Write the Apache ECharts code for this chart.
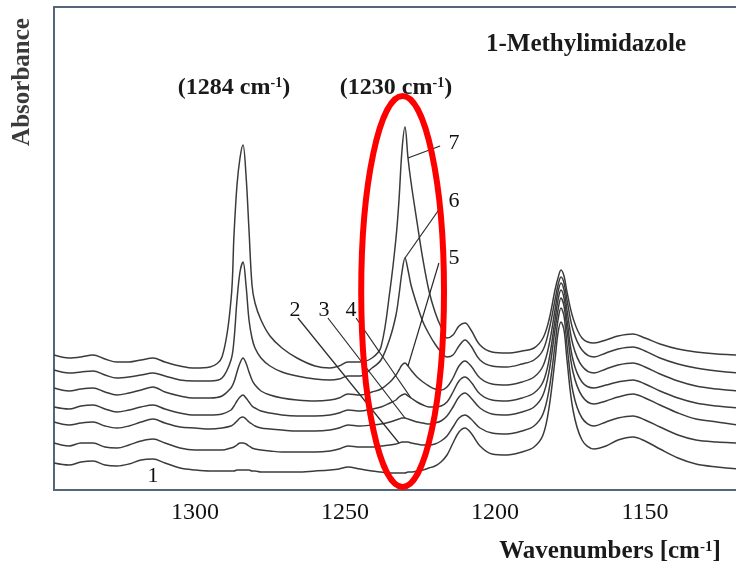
<!DOCTYPE html>
<html>
<head>
<meta charset="utf-8">
<script src="https://cdn.jsdelivr.net/npm/echarts@6/dist/echarts.min.js"></script>
<style>
  html, body { margin: 0; padding: 0; background: #ffffff; }
  #chart { width: 736px; height: 571px; }
</style>
</head>
<body>
<div id="chart"></div>
<script>
// Wavenumber sampling points (cm-1), high to low
const wavenumbers = [1347, 1342, 1338, 1334, 1330, 1326, 1322, 1318, 1314, 1310,
  1305, 1300, 1295, 1291, 1288, 1287, 1286, 1285, 1284, 1283,
  1282, 1281, 1280, 1278, 1275, 1271, 1266, 1260, 1255, 1252,
  1249, 1245, 1241, 1238, 1235, 1233, 1232, 1231, 1230, 1229,
  1228, 1226, 1224, 1222, 1220, 1218, 1216, 1214, 1212, 1210,
  1208, 1205, 1201, 1196, 1191, 1187, 1184, 1182, 1180, 1179,
  1178, 1177, 1176, 1174, 1171, 1167, 1163, 1159, 1154, 1150,
  1145, 1139, 1133, 1126, 1119, 1112];

// Absorbance of each spectrum (stacked, arbitrary offset units)
const spectrum1 = [0.27,0.25,0.28,0.29,0.25,0.24,0.26,0.30,0.31,0.27,
  0.22,0.20,0.19,0.19,0.19,0.19,0.20,0.20,0.20,0.20,
  0.20,0.19,0.19,0.18,0.18,0.18,0.18,0.19,0.20,0.21,
  0.23,0.21,0.19,0.18,0.17,0.17,0.17,0.17,0.17,0.18,
  0.18,0.19,0.20,0.22,0.24,0.28,0.35,0.47,0.58,0.62,
  0.57,0.44,0.36,0.35,0.38,0.43,0.55,0.82,1.30,1.57,
  1.68,1.60,1.30,0.80,0.50,0.41,0.44,0.50,0.53,0.49,
  0.41,0.32,0.26,0.23,0.21,0.20];
const spectrum2 = [0.47,0.44,0.47,0.47,0.43,0.42,0.45,0.49,0.51,0.47,
  0.42,0.40,0.40,0.40,0.42,0.43,0.45,0.47,0.47,0.46,
  0.44,0.42,0.41,0.40,0.39,0.38,0.38,0.38,0.39,0.41,
  0.44,0.43,0.43,0.44,0.45,0.46,0.47,0.48,0.48,0.48,
  0.47,0.46,0.45,0.45,0.46,0.49,0.54,0.63,0.72,0.75,
  0.71,0.62,0.57,0.56,0.59,0.64,0.76,1.00,1.45,1.70,
  1.82,1.74,1.45,0.98,0.72,0.64,0.68,0.72,0.74,0.70,
  0.63,0.55,0.50,0.48,0.47,0.46];
const spectrum3 = [0.68,0.65,0.67,0.68,0.64,0.62,0.64,0.68,0.71,0.67,
  0.63,0.62,0.61,0.62,0.64,0.66,0.69,0.72,0.73,0.71,
  0.68,0.66,0.64,0.62,0.61,0.60,0.59,0.59,0.60,0.62,
  0.65,0.64,0.65,0.66,0.68,0.70,0.71,0.72,0.72,0.71,
  0.70,0.68,0.67,0.66,0.67,0.69,0.74,0.83,0.93,0.97,
  0.92,0.82,0.76,0.75,0.78,0.83,0.95,1.18,1.60,1.80,
  1.92,1.84,1.60,1.18,0.94,0.86,0.89,0.93,0.96,0.92,
  0.85,0.77,0.71,0.68,0.65,0.64];
const spectrum4 = [0.83,0.81,0.84,0.85,0.81,0.78,0.80,0.83,0.85,0.81,
  0.77,0.75,0.75,0.76,0.80,0.84,0.89,0.93,0.95,0.92,
  0.88,0.84,0.82,0.79,0.77,0.75,0.74,0.74,0.75,0.77,
  0.80,0.79,0.81,0.83,0.87,0.90,0.93,0.95,0.96,0.94,
  0.92,0.88,0.85,0.83,0.83,0.84,0.88,0.98,1.09,1.13,
  1.08,0.96,0.90,0.89,0.92,0.97,1.08,1.30,1.70,1.90,
  2.00,1.92,1.70,1.30,1.08,1.02,1.05,1.08,1.10,1.06,
  0.99,0.92,0.87,0.84,0.82,0.81];
const spectrum5 = [1.02,0.99,1.01,1.02,0.98,0.95,0.97,1.00,1.03,0.98,
  0.94,0.92,0.92,0.94,1.02,1.08,1.18,1.27,1.32,1.27,
  1.18,1.10,1.05,0.99,0.95,0.92,0.90,0.89,0.90,0.92,
  0.96,0.95,0.98,1.01,1.08,1.15,1.20,1.25,1.27,1.24,
  1.20,1.13,1.08,1.04,1.01,1.00,1.03,1.12,1.24,1.29,
  1.24,1.12,1.06,1.05,1.08,1.13,1.24,1.45,1.80,1.98,
  2.07,2.00,1.80,1.45,1.24,1.17,1.21,1.25,1.27,1.23,
  1.16,1.09,1.04,1.01,0.99,0.98];
const spectrum6 = [1.20,1.17,1.18,1.19,1.15,1.12,1.13,1.15,1.17,1.14,
  1.10,1.09,1.09,1.12,1.30,1.50,1.90,2.18,2.28,2.05,
  1.70,1.52,1.42,1.32,1.24,1.18,1.14,1.11,1.10,1.11,
  1.14,1.14,1.22,1.30,1.52,1.75,1.95,2.18,2.32,2.20,
  2.05,1.85,1.68,1.56,1.46,1.38,1.33,1.35,1.44,1.50,
  1.44,1.30,1.24,1.23,1.26,1.30,1.40,1.60,1.90,2.05,
  2.13,2.07,1.90,1.60,1.40,1.33,1.37,1.41,1.43,1.39,
  1.32,1.26,1.22,1.19,1.17,1.16];
const spectrum7 = [1.35,1.32,1.33,1.35,1.31,1.28,1.28,1.30,1.32,1.28,
  1.24,1.22,1.23,1.33,1.90,2.55,3.05,3.32,3.45,3.15,
  2.60,2.05,1.87,1.70,1.54,1.42,1.32,1.24,1.22,1.24,
  1.28,1.28,1.32,1.43,2.00,2.52,2.90,3.40,3.63,3.32,
  3.08,2.68,2.30,1.99,1.78,1.63,1.52,1.55,1.64,1.67,
  1.60,1.45,1.38,1.37,1.39,1.42,1.52,1.70,2.00,2.12,
  2.20,2.14,1.98,1.72,1.52,1.47,1.50,1.54,1.56,1.52,
  1.46,1.41,1.38,1.36,1.35,1.34];

const spectra = [spectrum1, spectrum2, spectrum3, spectrum4, spectrum5, spectrum6, spectrum7];
const spectrumNames = ['1', '2', '3', '4', '5', '6', '7'];

// Axis tick labels (cm-1)
const xTickLabels = [1300, 1250, 1200, 1150];

// Band annotations: peak position and label anchor [wavenumber, absorbance]
const bandPeaks = [1284, 1230];
const bandLabelAnchors = [[1287, 4.02], [1233, 4.02]];

// Curve number labels: anchor of the text, start of the leader, wavenumber where it meets the curve
const numberAnchors = [[1314, 0.14], [1266.7, 1.80], [1257, 1.80], [1248, 1.80],
  [1213.7, 2.32], [1213.7, 2.89], [1213.7, 3.47]];
const leaderStarts = [null, [1265.7, 1.72], [1255.7, 1.72], [1246.3, 1.72],
  [1218.7, 2.27], [1218.3, 2.82], [1218.3, 3.44]];
const leaderTargets = [null, 1232, 1230, 1228, 1229, 1230, 1229];

// Highlight ellipse around the 1230 cm-1 band: centre and half-extent
const ellipseCentre = [1230.8, 1.985];
const ellipseHalf = [13.8, 1.955];

const serif = 'Liberation Serif, Times New Roman, serif';
const chart = echarts.init(document.getElementById('chart'), null, { renderer: 'canvas' });

chart.setOption({
  animation: false,
  backgroundColor: '#ffffff',
  grid: {
    left: 54, top: 7, width: 684, height: 483,
    outerBoundsMode: 'none', containLabel: false,
    show: true, borderColor: '#55657a', borderWidth: 2, backgroundColor: '#ffffff'
  },
  xAxis: {
    type: 'value', min: 1119, max: 1347, inverse: true,
    axisLine: { show: false }, axisTick: { show: false }, splitLine: { show: false },
    axisLabel: {
      customValues: xTickLabels, margin: 11,
      formatter: (v) => String(v),
      fontFamily: serif, fontSize: 24, color: '#111111'
    }
  },
  yAxis: {
    type: 'value', min: 0, max: 4.83, show: false
  },
  series: spectra.map((values, i) => ({
    name: spectrumNames[i],
    type: 'line',
    data: wavenumbers.map((w, k) => [w, values[k]]),
    showSymbol: false,
    smooth: 0.35,
    lineStyle: { color: '#3b3b3b', width: 1.5 },
    z: 2
  }))
});

function px(point) {
  return chart.convertToPixel({ gridIndex: 0 }, point);
}

function valueAt(seriesIdx, w) {
  return spectra[seriesIdx][wavenumbers.indexOf(w)];
}

const graphics = [];

// Curve number labels with leader lines
spectrumNames.forEach((name, i) => {
  const p = px(numberAnchors[i]);
  graphics.push({
    type: 'text', x: p[0], y: p[1], z: 10,
    style: {
      text: name, font: '22px ' + serif, fill: '#111111',
      textAlign: 'center', textVerticalAlign: 'middle'
    }
  });
  if (leaderStarts[i]) {
    const a = px(leaderStarts[i]);
    const b = px([leaderTargets[i], valueAt(i, leaderTargets[i])]);
    graphics.push({
      type: 'line', z: 9,
      shape: { x1: a[0], y1: a[1], x2: b[0], y2: b[1] },
      style: { stroke: '#2a2a2a', lineWidth: 1.2 }
    });
  }
});

// Band labels with superscript units
bandPeaks.forEach((peak, i) => {
  const p = px(bandLabelAnchors[i]);
  graphics.push({
    type: 'text', x: p[0], y: p[1], z: 10,
    style: {
      text: '{b|(' + peak + ' cm}{s|-1}{b|)}',
      textAlign: 'center', textVerticalAlign: 'middle',
      rich: {
        b: { font: 'bold 24px ' + serif, fill: '#1a1a1a' },
        s: { font: 'bold 14px ' + serif, fill: '#1a1a1a', verticalAlign: 'top' }
      }
    }
  });
});

// Ellipse highlighting the 1230 cm-1 band
const c = px(ellipseCentre);
const e = px([ellipseCentre[0] - ellipseHalf[0], ellipseCentre[1] + ellipseHalf[1]]);
graphics.push({
  type: 'ellipse', z: 20,
  shape: { cx: c[0], cy: c[1], rx: Math.abs(e[0] - c[0]), ry: Math.abs(c[1] - e[1]) },
  style: { fill: null, stroke: '#ff0000', lineWidth: 6 }
});

// Compound name
graphics.push({
  type: 'text', x: 586, y: 45, z: 10,
  style: {
    text: '1-Methylimidazole', font: 'bold 25px ' + serif, fill: '#1a1a1a',
    textAlign: 'center', textVerticalAlign: 'middle'
  }
});

// Axis titles
graphics.push({
  type: 'text', x: 23, y: 82, rotation: Math.PI / 2, z: 10,
  style: {
    text: 'Absorbance', font: 'bold 25px ' + serif, fill: '#3a3a3a',
    textAlign: 'center', textVerticalAlign: 'middle'
  }
});
graphics.push({
  type: 'text', x: 610, y: 552, z: 10,
  style: {
    text: '{b|Wavenumbers [cm}{s|-1}{b|]}',
    textAlign: 'center', textVerticalAlign: 'middle',
    rich: {
      b: { font: 'bold 25px ' + serif, fill: '#1a1a1a' },
      s: { font: 'bold 15px ' + serif, fill: '#1a1a1a', verticalAlign: 'top' }
    }
  }
});

chart.setOption({ graphic: { elements: graphics } });
</script>
</body>
</html>
